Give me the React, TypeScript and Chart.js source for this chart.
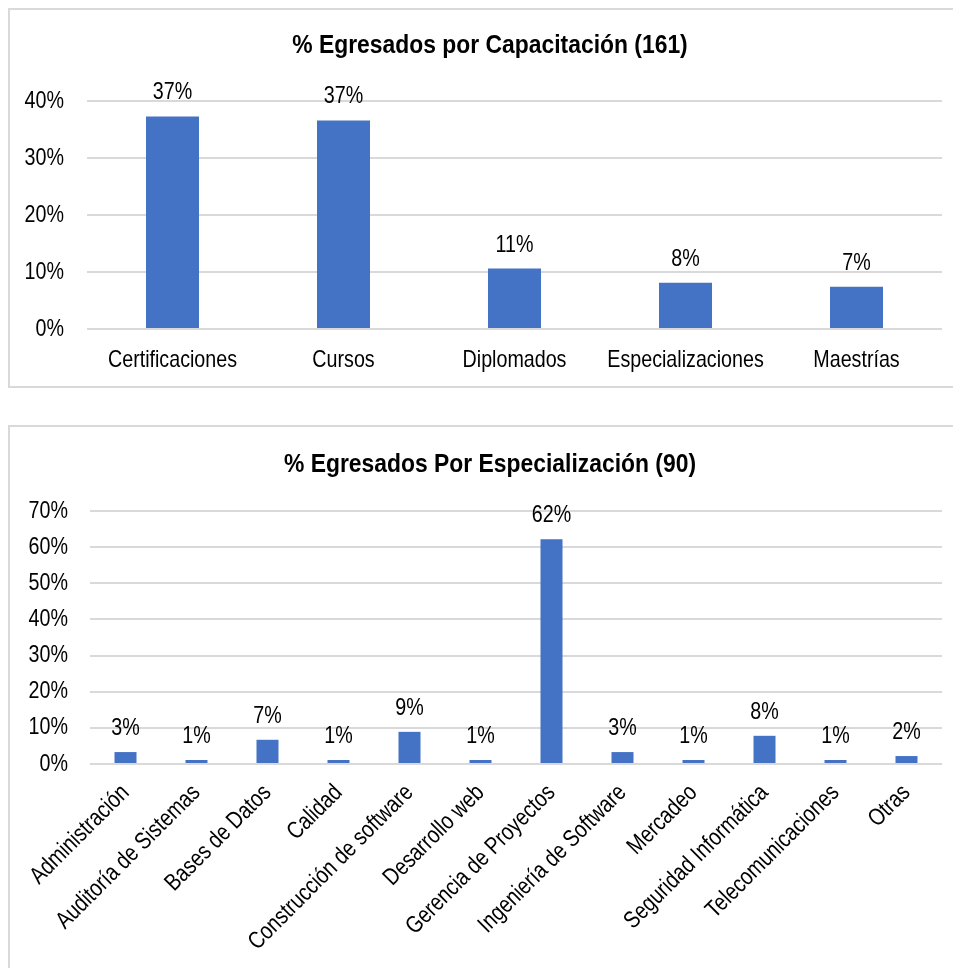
import React, { useEffect, useRef } from "react";
import { Chart, registerables } from "chart.js";

Chart.register(...registerables);

const FONT = "'Liberation Sans', Arial, sans-serif";
const BAR_COLOR = "#4472C4";
const GRID_COLOR = "#d9d9d9";
const TEXT_SIZE = 24;
const TEXT_SCALE = 0.82;
const TITLE_SIZE = 26;
const TITLE_SCALE = 0.88;

const capTitle = "% Egresados por Capacitación (161)";
const capCategories = ["Certificaciones", "Cursos", "Diplomados", "Especializaciones", "Maestrías"];
const capValues = [37.3, 36.6, 10.6, 8.1, 7.4];
const capLabels = ["37%", "37%", "11%", "8%", "7%"];
const capMax = 40;

const espTitle = "% Egresados Por Especialización (90)";
const espCategories = [
  "Administración",
  "Auditoría de Sistemas",
  "Bases de Datos",
  "Calidad",
  "Construcción de software",
  "Desarrollo web",
  "Gerencia de Proyectos",
  "Ingeniería de Software",
  "Mercadeo",
  "Seguridad Informática",
  "Telecomunicaciones",
  "Otras",
];
const espValues = [3.3, 1.1, 6.7, 1.1, 8.9, 1.1, 62.2, 3.3, 1.1, 7.8, 1.1, 2.2];
const espLabels = ["3%", "1%", "7%", "1%", "9%", "1%", "62%", "3%", "1%", "8%", "1%", "2%"];
const espMax = 70;

type Cfg = {
  title: string;
  titleX: number;
  titleBaseline: number;
  categories: string[];
  values: number[];
  labels: string[];
  max: number;
  width: number;
  height: number;
  padTop: number;
  padRight: number;
  yWidth: number;
  xHeight: number;
  yPad: number;
  xLabelDy: number;
  xLabelDx: number;
  rotate: boolean;
};

function scaledText(
  ctx: CanvasRenderingContext2D,
  text: string,
  x: number,
  y: number,
  sx: number,
  align: CanvasTextAlign,
  baseline: CanvasTextBaseline,
  angle = 0
) {
  ctx.save();
  ctx.translate(x, y);
  if (angle) ctx.rotate(angle);
  ctx.scale(sx, 1);
  ctx.textAlign = align;
  ctx.textBaseline = baseline;
  ctx.fillText(text, 0, 0);
  ctx.restore();
}

const textPlugin = {
  id: "customText",
  afterDatasetsDraw(chart: any, _args: any, opts: any) {
    const ctx: CanvasRenderingContext2D = chart.ctx;
    const area = chart.chartArea;
    const meta = chart.getDatasetMeta(0);
    const xs = chart.scales.x;
    const ys = chart.scales.y;
    ctx.save();
    ctx.fillStyle = "#000";
    ctx.font = `${TEXT_SIZE}px ${FONT}`;
    // value labels
    meta.data.forEach((bar: any, i: number) => {
      scaledText(ctx, opts.labels[i], bar.x, bar.y - 17, TEXT_SCALE, "center", "alphabetic");
    });
    // y tick labels
    ys.ticks.forEach((t: any) => {
      const y = ys.getPixelForValue(t.value);
      scaledText(ctx, `${t.value}%`, area.left - opts.yPad, y, TEXT_SCALE, "right", "middle");
    });
    // x tick labels
    opts.categories.forEach((c: string, i: number) => {
      const x = xs.getPixelForTick(i);
      if (opts.rotate) {
        scaledText(ctx, c, x + opts.xLabelDx, area.bottom + opts.xLabelDy, TEXT_SCALE, "right", "middle", -Math.PI / 4);
      } else {
        scaledText(ctx, c, x, area.bottom + opts.xLabelDy, TEXT_SCALE, "center", "alphabetic");
      }
    });
    // title
    ctx.font = `bold ${TITLE_SIZE}px ${FONT}`;
    scaledText(ctx, opts.title, opts.titleX, opts.titleBaseline, TITLE_SCALE, "center", "alphabetic");
    ctx.restore();
  },
};

function BarChart({ cfg }: { cfg: Cfg }) {
  const ref = useRef<HTMLCanvasElement>(null);
  useEffect(() => {
    if (!ref.current) return;
    const chart = new Chart(ref.current, {
      type: "bar",
      data: {
        labels: cfg.categories,
        datasets: [
          {
            data: cfg.values,
            backgroundColor: BAR_COLOR,
            barPercentage: 0.31,
            categoryPercentage: 1,
          },
        ],
      },
      options: {
        animation: false,
        responsive: false,
        maintainAspectRatio: false,
        layout: { padding: { top: cfg.padTop, right: cfg.padRight, left: 0, bottom: 0 } },
        plugins: {
          legend: { display: false },
          title: { display: false },
          tooltip: { enabled: false },
          customText: {
            labels: cfg.labels,
            categories: cfg.categories,
            title: cfg.title,
            titleX: cfg.titleX,
            titleBaseline: cfg.titleBaseline,
            yPad: cfg.yPad,
            xLabelDy: cfg.xLabelDy,
            xLabelDx: cfg.xLabelDx,
            rotate: cfg.rotate,
          },
        } as any,
        scales: {
          x: {
            grid: { display: false },
            border: { display: false },
            ticks: { display: false },
            afterFit: (s: any) => {
              s.height = cfg.xHeight;
            },
          },
          y: {
            min: 0,
            max: cfg.max,
            grid: { color: GRID_COLOR, lineWidth: 2, drawTicks: false },
            border: { display: false },
            ticks: { display: false, stepSize: 10 },
            afterFit: (s: any) => {
              s.width = cfg.yWidth;
            },
          },
        },
      },
      plugins: [textPlugin as any],
    });
    return () => chart.destroy();
  }, [cfg]);
  return (
    <canvas
      ref={ref}
      width={cfg.width}
      height={cfg.height}
      style={{ display: "block", width: cfg.width, height: cfg.height }}
    />
  );
}

const cfg1: Cfg = {
  title: capTitle,
  titleX: 480,
  titleBaseline: 43,
  categories: capCategories,
  values: capValues,
  labels: capLabels,
  max: capMax,
  width: 948,
  height: 376,
  padTop: 91,
  padRight: 16,
  yWidth: 77,
  xHeight: 57,
  yPad: 23,
  xLabelDy: 38,
  xLabelDx: 0,
  rotate: false,
};

const cfg2: Cfg = {
  title: espTitle,
  titleX: 480,
  titleBaseline: 45,
  categories: espCategories,
  values: espValues,
  labels: espLabels,
  max: espMax,
  width: 948,
  height: 556,
  padTop: 84,
  padRight: 16,
  yWidth: 80,
  xHeight: 219,
  yPad: 22,
  xLabelDy: 25,
  xLabelDx: 0,
  rotate: true,
};

const boxStyle: React.CSSProperties = {
  border: `2px solid ${GRID_COLOR}`,
  boxSizing: "border-box",
  width: 952,
  background: "#fff",
  overflow: "hidden",
};

export default function App() {
  return (
    <div>
      <div style={{ ...boxStyle, height: 380 }}>
        <BarChart cfg={cfg1} />
      </div>
      <div style={{ ...boxStyle, height: 560, marginTop: 37 }}>
        <BarChart cfg={cfg2} />
      </div>
    </div>
  );
}
